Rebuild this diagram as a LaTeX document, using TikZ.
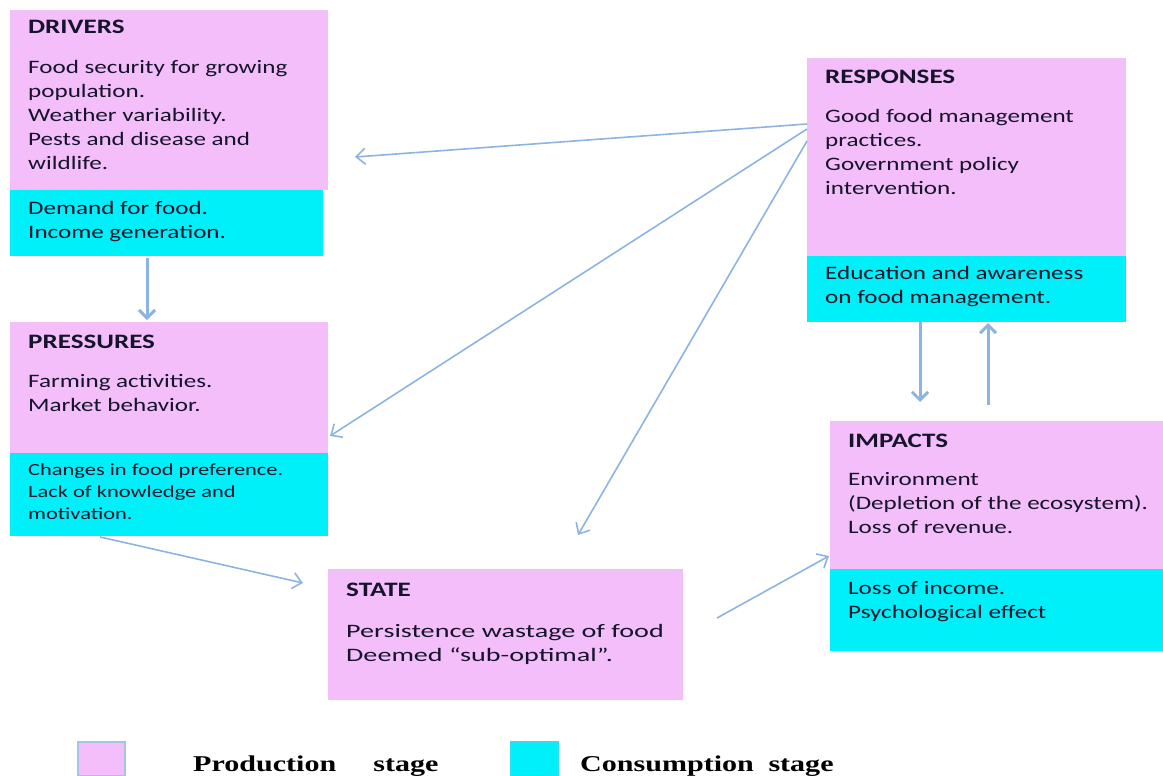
\documentclass[tikz,border=0pt]{standalone}
\usepackage{fontspec}
\usepackage{graphicx}
\setmainfont{Carlito}[FakeStretch=1.32]
\newfontfamily\statefont{Carlito}[FakeStretch=1.48,Ligatures=TeX]
\newfontfamily\legfont{Liberation Serif}
\usetikzlibrary{arrows.meta}
\definecolor{pinkbox}{HTML}{F4BEFA}
\definecolor{cyanbox}{HTML}{00F0FA}
\definecolor{arrblue}{HTML}{8CB4E2}
\definecolor{txt}{HTML}{14142A}
\tikzset{
  box/.style={anchor=north west, inner sep=0pt, outer sep=0pt, draw=none},
  pbox/.style={box, fill=pinkbox},
  cbox/.style={box, fill=cyanbox},
  ttl/.style={anchor=base west, inner sep=0pt, font=\bfseries\fontsize{20.5}{24}\selectfont, text=txt},
  body/.style={anchor=north west, inner sep=0pt, align=left, font=\fontsize{19}{24}\selectfont, text=txt},
  sbody/.style={anchor=north west, inner sep=0pt, align=left, font=\fontsize{17}{22}\selectfont, text=txt},
  arr/.style={draw=arrblue, line width=1.6pt, -{Straight Barb[length=9pt,width=16pt,line width=1.6pt]}},
  thickarr/.style={draw=arrblue, line width=3pt, -{Straight Barb[length=8pt,width=16pt,line width=3pt]}},
  legsq/.style={anchor=north west, inner sep=0pt, minimum width=47pt, minimum height=34pt, line width=1.5pt},
  legtxt/.style={anchor=base west, inner sep=0pt, font=\legfont\fontsize{22.6}{26}\selectfont\bfseries, text=black}
}
\begin{document}
\begin{tikzpicture}[x=1pt,y=-1pt]
\useasboundingbox (0,0) rectangle (1163,776);
% DRIVERS
\node[pbox, minimum width=318pt, minimum height=180pt] (dp) at (10,10) {};
\node[cbox, minimum width=313pt, minimum height=66pt] (dc) at (10,190) {};
\node[ttl] (dt) at (28,34) {DRIVERS};
\node[body] (db) at (28,60) {Food security for growing\\population.\\Weather variability.\\Pests and disease and\\wildlife.};
\node[body] (dcb) at (28,201) {Demand for food.\\Income generation.};
% PRESSURES
\node[pbox, minimum width=318pt, minimum height=131pt] (pp) at (10,322) {};
\node[cbox, minimum width=318pt, minimum height=83pt] (pc) at (10,453) {};
\node[ttl] (pt) at (28,348) {PRESSURES};
\node[body] (pb) at (28,374) {Farming activities.\\Market behavior.};
\node[sbody] (pcb) at (28,463) {Changes in food preference.\\Lack of knowledge and\\motivation.};
% STATE
\node[pbox, minimum width=355pt, minimum height=131pt] (sp) at (328,569) {};
\node[ttl] (st) at (346,596) {STATE};
\node[body, font=\statefont\fontsize{19}{24}\selectfont] (sb) at (346,624) {Persistence wastage of food\\Deemed “sub-optimal”.};
% RESPONSES
\node[pbox, minimum width=319pt, minimum height=198pt] (rp) at (807,58) {};
\node[cbox, minimum width=319pt, minimum height=66pt] (rc) at (807,256) {};
\node[ttl] (rt) at (825,84) {RESPONSES};
\node[body] (rb) at (825,109) {Good food management\\practices.\\Government policy\\intervention.};
\node[body] (rcb) at (825,266) {Education and awareness\\on food management.};
% IMPACTS
\node[pbox, minimum width=333pt, minimum height=148pt] (ip) at (830,421) {};
\node[cbox, minimum width=333pt, minimum height=82pt] (ic) at (830,569) {};
\node[ttl] (it) at (848,447) {IMPACTS};
\node[body] (ib) at (848,472) {Environment\\(Depletion of the ecosystem).\\Loss of revenue.};
\node[body] (icb) at (848,581) {Loss of income.\\Psychological effect};
% arrow end points
\coordinate (r1) at (807,124);
\coordinate (r2) at (807,129);
\coordinate (r3) at (807,141);
\coordinate (e1) at (355,157);
\coordinate (e2) at (330,436);
\coordinate (e3) at (578,535);
\coordinate (d1) at (147,258);
\coordinate (d2) at (147,320);
\coordinate (p1) at (100,537);
\coordinate (p2) at (303,583);
\coordinate (s1) at (717,618);
\coordinate (s2) at (829,556);
\coordinate (ra) at (920,322);
\coordinate (rb2) at (920,402);
\coordinate (ia) at (988,405);
\coordinate (ib2) at (988,323);
\draw[arr] (r1) -- (e1);
\draw[arr] (r2) -- (e2);
\draw[arr] (r3) -- (e3);
\draw[thickarr] (d1) -- (d2);
\draw[arr] (p1) -- (p2);
\draw[arr] (s1) -- (s2);
\draw[thickarr] (ra) -- (rb2);
\draw[thickarr] (ia) -- (ib2);
% legend
\node[legsq, fill=pinkbox, draw=arrblue!80] (lp) at (77,741) {};
\node[legtxt] (lpt) at (193,771) {\scalebox{1.33}[1]{Production\hspace{28pt}stage}};
\node[legsq, fill=cyanbox, draw=cyanbox!70!arrblue] (lc) at (510,741) {};
\node[legtxt] (lct) at (580,771) {\scalebox{1.33}[1]{Consumption\hspace{11pt}stage}};
\end{tikzpicture}
\end{document}
